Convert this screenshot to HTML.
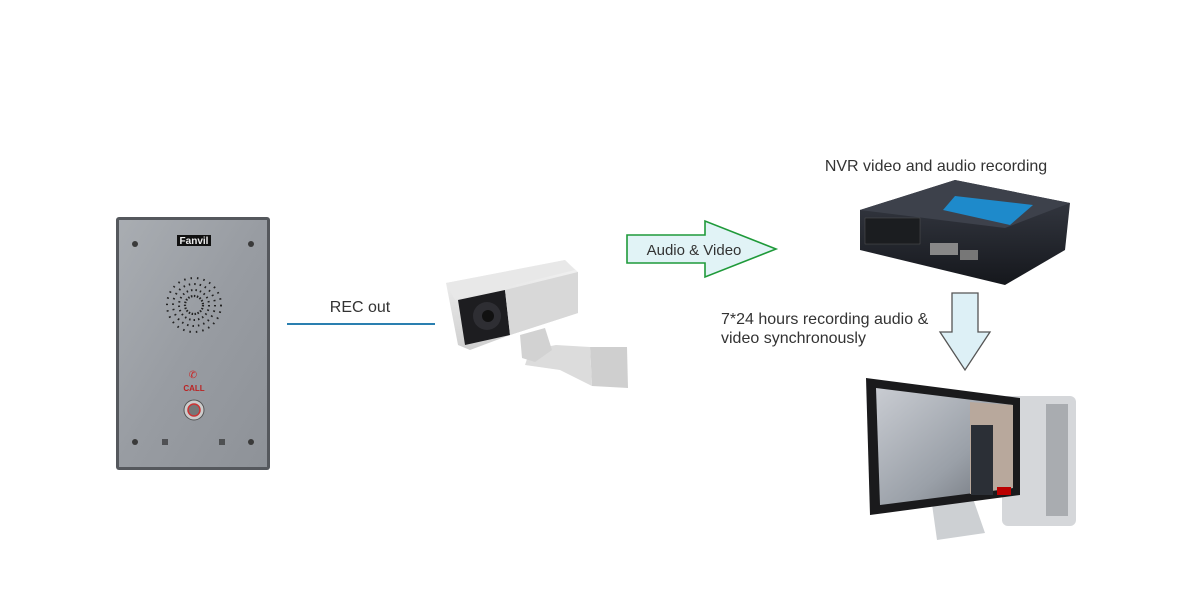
<!DOCTYPE html>
<html><head><meta charset="utf-8"><style>
html,body{margin:0;padding:0;background:#fff;width:1200px;height:600px;overflow:hidden}
text{font-family:"Liberation Sans",sans-serif;fill:#333}
</style></head><body>
<svg width="1200" height="600" viewBox="0 0 1200 600" xmlns="http://www.w3.org/2000/svg">
<defs>
<linearGradient id="pan" x1="0" y1="0" x2="1" y2="1"><stop offset="0" stop-color="#a9adb2"/><stop offset="0.5" stop-color="#989ca2"/><stop offset="1" stop-color="#8e9298"/></linearGradient>
<linearGradient id="cam" x1="0" y1="0" x2="0" y2="1"><stop offset="0" stop-color="#f4f4f4"/><stop offset="1" stop-color="#cfcfcf"/></linearGradient>
<linearGradient id="nvr" x1="0" y1="0" x2="0" y2="1"><stop offset="0" stop-color="#3a3e48"/><stop offset="1" stop-color="#15171c"/></linearGradient>
<linearGradient id="scr" x1="0" y1="0" x2="1" y2="1"><stop offset="0" stop-color="#c9ccd2"/><stop offset="0.6" stop-color="#9aa0a8"/><stop offset="1" stop-color="#6b6f76"/></linearGradient>
</defs>
<rect x="116" y="217" width="154" height="253" rx="3" fill="#55585d"/>
<rect x="119" y="220" width="148" height="247" fill="url(#pan)"/>
<rect x="177" y="235" width="34" height="11" fill="#111"/>
<text x="194" y="244" font-size="10" text-anchor="middle" style="fill:#eee" font-weight="bold">Fanvil</text>
<g fill="#3a3a3a">
<circle cx="135" cy="244" r="3"/><circle cx="251" cy="244" r="3"/><circle cx="135" cy="442" r="3"/><circle cx="251" cy="442" r="3"/>
</g>
<g>
<circle cx="194" cy="305" r="9" fill="none" stroke="#222" stroke-width="2.2" stroke-dasharray="1.5 1.5"/>
<circle cx="194" cy="305" r="15" fill="none" stroke="#222" stroke-width="2" stroke-dasharray="1.5 3"/>
<circle cx="194" cy="305" r="21" fill="none" stroke="#222" stroke-width="2" stroke-dasharray="1.5 4"/>
<circle cx="194" cy="305" r="27" fill="none" stroke="#222" stroke-width="2" stroke-dasharray="1.5 5"/>
</g>
<text x="193" y="378" font-size="10" style="fill:#c22" text-anchor="middle">✆</text>
<text x="194" y="391" font-size="8" font-weight="bold" style="fill:#b22" text-anchor="middle">CALL</text>
<circle cx="194" cy="410" r="10" fill="#ccc" stroke="#555"/>
<circle cx="194" cy="410" r="6" fill="#777" stroke="#c33" stroke-width="1.5"/>
<g fill="#222"><rect x="162" y="439" width="6" height="6" opacity="0.6"/><rect x="219" y="439" width="6" height="6" opacity="0.6"/></g>
<text x="360" y="312" font-size="16" text-anchor="middle">REC out</text>
<line x1="287" y1="324" x2="435" y2="324" stroke="#2a7fb0" stroke-width="2"/>
<!-- camera -->
<polygon points="590,347 627,347 628,388 592,386" fill="#cfcfcf"/>
<polygon points="590,347 556,345 530,350 525,365 560,370 592,386" fill="#dcdcdc"/>
<polygon points="520,335 545,328 552,350 535,362 522,358" fill="#d2d2d2"/>
<polygon points="446,283 565,260 578,272 578,313 510,335 470,350 458,345" fill="url(#cam)"/>
<polygon points="446,283 565,260 575,270 455,300" fill="#e8e8e8"/>
<polygon points="458,300 505,290 510,335 465,345" fill="#1d1d20"/>
<circle cx="487" cy="316" r="14" fill="#2e2e33"/><circle cx="488" cy="316" r="6" fill="#111"/>
<polygon points="505,290 578,272 578,313 510,335" fill="#d8d8d8"/>
<polygon points="627,235 705,235 705,221 776,249 705,277 705,263 627,263" fill="#e1f3f6" stroke="#1f9a3a" stroke-width="1.6"/>
<text x="694" y="255" font-size="15" text-anchor="middle">Audio &amp; Video</text>
<text x="936" y="171" font-size="16" text-anchor="middle">NVR video and audio recording</text>
<polygon points="860,210 955,180 1070,203 1065,250 1005,285 860,250" fill="url(#nvr)"/>
<polygon points="860,210 955,180 1070,203 1005,228" fill="#3d414b"/>
<polygon points="955,196 1033,205 1010,225 943,210" fill="#1e8acb"/>
<rect x="865" y="218" width="55" height="26" fill="#1b1d20" stroke="#555" stroke-width="0.5"/>
<rect x="930" y="243" width="28" height="12" fill="#888"/>
<rect x="960" y="250" width="18" height="10" fill="#777"/>
<polygon points="952,293 978,293 978,332 990,332 965,370 940,332 952,332" fill="#ddf0f6" stroke="#555" stroke-width="1.3"/>
<text x="721" y="324" font-size="16">7*24 hours recording audio &amp;</text>
<text x="721" y="343" font-size="16">video synchronously</text>
<rect x="1002" y="396" width="74" height="130" rx="6" fill="#d5d7da"/>
<rect x="1046" y="404" width="22" height="112" fill="#a9acb0"/>
<polygon points="930,490 970,490 985,533 937,540" fill="#cdd0d3"/>
<polygon points="866,378 1020,398 1020,495 870,515" fill="#1a1a1c"/>
<polygon points="876,388 1013,405 1013,488 880,505" fill="url(#scr)"/>
<polygon points="970,402 1013,405 1013,488 970,494" fill="#b8a89c"/>
<rect x="971" y="425" width="22" height="70" fill="#2b2f36"/>
<rect x="997" y="487" width="14" height="8" fill="#b00"/>
</svg>
</body></html>
